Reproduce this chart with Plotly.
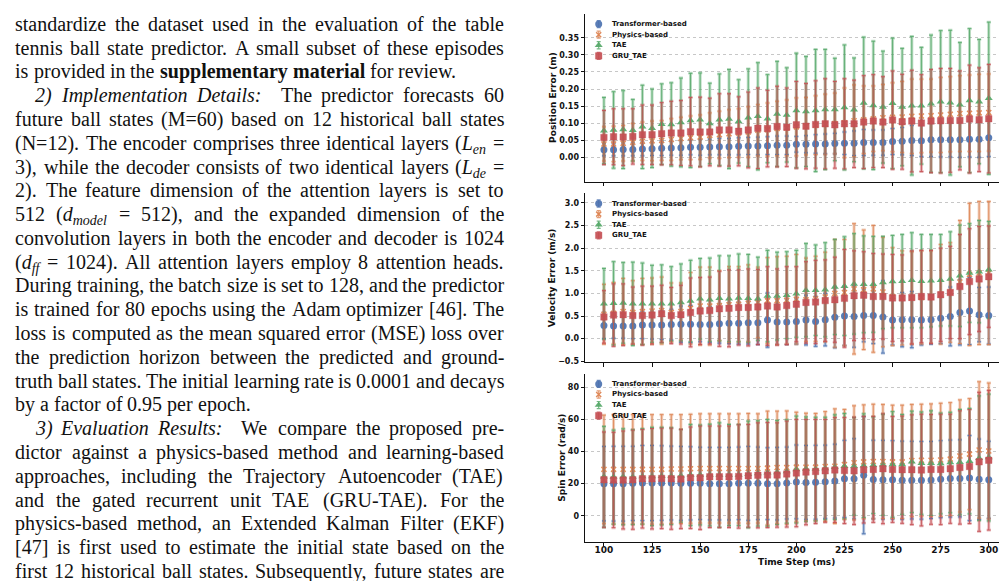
import re
import plotly.graph_objects as go

W, H = 1007, 581

# ---------------- data ----------------
time_steps = [100, 105, 110, 115, 120, 125, 130, 135, 140, 145,
              150, 155, 160, 165, 170, 175, 180, 185, 190, 195,
              200, 205, 210, 215, 220, 225, 230, 235, 240, 245,
              250, 255, 260, 265, 270, 275, 280, 285, 290, 295, 300]
x_ticks = [100, 125, 150, 175, 200, 225, 250, 275, 300]
series_names = ["Transformer-based", "Physics-based", "TAE", "GRU_TAE"]

# Position error (m)
pos_tf = [0.022, 0.022, 0.023, 0.023, 0.024, 0.025, 0.026, 0.027, 0.028, 0.029,
          0.029, 0.030, 0.031, 0.031, 0.032, 0.033, 0.033, 0.034, 0.035, 0.035,
          0.038, 0.038, 0.039, 0.039, 0.040, 0.041, 0.041, 0.043, 0.043, 0.043,
          0.046, 0.047, 0.049, 0.048, 0.051, 0.051, 0.051, 0.051, 0.053, 0.053, 0.057]
pos_tf_sd = [0.018, 0.018, 0.019, 0.019, 0.020, 0.020, 0.021, 0.021, 0.022, 0.022,
             0.023, 0.023, 0.024, 0.024, 0.025, 0.025, 0.026, 0.026, 0.027, 0.027,
             0.023, 0.025, 0.027, 0.029, 0.030, 0.033, 0.036, 0.038, 0.037, 0.037,
             0.038, 0.040, 0.044, 0.046, 0.049, 0.050, 0.050, 0.051, 0.052, 0.053, 0.055]
pos_ph = [0.039, 0.039, 0.041, 0.044, 0.047, 0.048, 0.049, 0.052, 0.055, 0.057,
          0.059, 0.064, 0.066, 0.069, 0.071, 0.074, 0.079, 0.081, 0.084, 0.086,
          0.089, 0.091, 0.094, 0.097, 0.099, 0.101, 0.107, 0.110, 0.113, 0.116,
          0.117, 0.118, 0.120, 0.121, 0.122, 0.124, 0.126, 0.128, 0.129, 0.130, 0.131]
pos_ph_sd = [0.050, 0.052, 0.052, 0.055, 0.056, 0.058, 0.058, 0.061, 0.062, 0.064,
             0.065, 0.066, 0.069, 0.070, 0.071, 0.074, 0.075, 0.078, 0.080, 0.082,
             0.085, 0.084, 0.086, 0.088, 0.089, 0.102, 0.105, 0.099, 0.096, 0.097,
             0.101, 0.104, 0.109, 0.108, 0.107, 0.110, 0.110, 0.111, 0.112, 0.113, 0.113]
pos_tae = [0.078, 0.080, 0.081, 0.079, 0.089, 0.085, 0.097, 0.096, 0.102, 0.108,
           0.110, 0.099, 0.110, 0.112, 0.105, 0.116, 0.120, 0.113, 0.127, 0.124,
           0.137, 0.134, 0.137, 0.140, 0.140, 0.146, 0.139, 0.159, 0.152, 0.147,
           0.158, 0.147, 0.151, 0.151, 0.157, 0.163, 0.160, 0.154, 0.166, 0.163, 0.173]
pos_tae_sd = [0.097, 0.112, 0.114, 0.090, 0.122, 0.115, 0.118, 0.122, 0.130, 0.138,
              0.137, 0.118, 0.134, 0.145, 0.122, 0.143, 0.157, 0.129, 0.154, 0.138,
              0.168, 0.161, 0.179, 0.176, 0.150, 0.183, 0.152, 0.193, 0.188, 0.164,
              0.191, 0.172, 0.203, 0.171, 0.201, 0.208, 0.212, 0.182, 0.211, 0.182, 0.223]
pos_gru = [0.058, 0.060, 0.059, 0.061, 0.066, 0.066, 0.069, 0.071, 0.071, 0.075,
           0.074, 0.074, 0.080, 0.080, 0.076, 0.080, 0.085, 0.084, 0.090, 0.088,
           0.095, 0.091, 0.096, 0.098, 0.095, 0.098, 0.098, 0.103, 0.106, 0.103,
           0.109, 0.104, 0.106, 0.100, 0.106, 0.107, 0.108, 0.108, 0.112, 0.110, 0.113]
pos_gru_sd = [0.079, 0.082, 0.083, 0.081, 0.087, 0.087, 0.091, 0.093, 0.095, 0.100,
              0.102, 0.099, 0.106, 0.106, 0.101, 0.111, 0.118, 0.112, 0.118, 0.115,
              0.127, 0.125, 0.128, 0.132, 0.127, 0.132, 0.128, 0.136, 0.136, 0.133,
              0.144, 0.139, 0.149, 0.142, 0.151, 0.153, 0.152, 0.145, 0.158, 0.152, 0.159]

# Velocity error (m/s)
vel_tf = [0.29, 0.28, 0.28, 0.28, 0.30, 0.30, 0.30, 0.31, 0.32, 0.32,
          0.31, 0.31, 0.33, 0.34, 0.34, 0.35, 0.35, 0.41, 0.37, 0.37,
          0.38, 0.41, 0.38, 0.42, 0.47, 0.50, 0.49, 0.51, 0.51, 0.48,
          0.41, 0.42, 0.42, 0.41, 0.42, 0.45, 0.49, 0.58, 0.61, 0.53, 0.51]
vel_tf_sd = [0.29, 0.27, 0.27, 0.28, 0.30, 0.31, 0.32, 0.34, 0.40, 0.41,
             0.38, 0.40, 0.43, 0.45, 0.46, 0.47, 0.48, 0.60, 0.50, 0.50,
             0.50, 0.55, 0.55, 0.58, 0.67, 0.65, 0.68, 0.58, 0.62, 0.80,
             0.55, 0.60, 0.62, 0.55, 0.54, 0.56, 0.65, 0.72, 0.74, 0.60, 0.63]
vel_ph = [0.54, 0.56, 0.60, 0.58, 0.60, 0.61, 0.62, 0.58, 0.60, 0.67,
          0.72, 0.72, 0.73, 0.75, 0.76, 0.78, 0.80, 0.84, 0.84, 0.85,
          0.87, 0.86, 0.88, 0.92, 1.00, 1.02, 1.10, 1.08, 1.10, 1.03,
          0.93, 0.90, 0.90, 0.91, 0.92, 0.98, 1.02, 1.25, 1.42, 1.45, 1.45]
vel_ph_sd = [0.66, 0.68, 0.73, 0.70, 0.73, 0.73, 0.74, 0.65, 0.63, 0.79,
             0.86, 0.86, 0.77, 0.84, 0.83, 0.85, 0.78, 0.95, 0.97, 0.97,
             0.99, 0.92, 0.94, 0.99, 1.19, 1.17, 1.44, 1.32, 1.40, 1.21,
             1.08, 1.04, 1.02, 1.03, 1.02, 1.10, 1.10, 1.36, 1.57, 1.58, 1.58]
vel_tae = [0.77, 0.78, 0.79, 0.77, 0.77, 0.77, 0.77, 0.77, 0.80, 0.83,
           0.88, 0.86, 0.89, 0.88, 0.90, 0.89, 0.88, 0.94, 0.94, 0.96,
           0.99, 1.07, 1.07, 1.08, 1.14, 1.16, 1.21, 1.20, 1.20, 1.24,
           1.26, 1.27, 1.29, 1.27, 1.28, 1.29, 1.32, 1.39, 1.45, 1.48, 1.52]
vel_tae_sd = [0.78, 0.92, 0.89, 0.92, 0.90, 0.85, 0.86, 0.82, 0.85, 0.90,
              0.89, 0.92, 0.94, 0.95, 0.97, 0.97, 0.92, 1.01, 0.97, 0.96,
              0.96, 1.03, 1.00, 1.04, 1.05, 1.09, 1.11, 1.07, 1.06, 1.02,
              1.02, 1.03, 1.05, 1.03, 1.02, 1.01, 1.04, 1.12, 1.09, 1.13, 1.07]
vel_gru = [0.48, 0.52, 0.53, 0.51, 0.51, 0.52, 0.55, 0.51, 0.53, 0.58,
           0.61, 0.62, 0.66, 0.67, 0.69, 0.69, 0.70, 0.72, 0.70, 0.73,
           0.76, 0.80, 0.81, 0.84, 0.86, 0.89, 0.95, 0.96, 0.93, 0.93,
           0.90, 0.90, 0.91, 0.93, 0.92, 0.97, 1.02, 1.15, 1.26, 1.32, 1.37]
vel_gru_sd = [0.58, 0.69, 0.68, 0.63, 0.65, 0.64, 0.63, 0.62, 0.65, 0.76,
              0.74, 0.74, 0.83, 0.85, 0.83, 0.85, 0.83, 0.87, 0.84, 0.86,
              0.83, 0.90, 0.92, 0.90, 0.94, 1.08, 0.99, 0.96, 0.95, 0.94,
              0.96, 0.95, 1.03, 1.02, 1.03, 1.03, 1.02, 1.15, 1.17, 1.16, 1.12]

# Spin error (rad/s)
spin_tf = [20.0, 20.0, 20.0, 20.2, 20.4, 20.4, 20.4, 20.4, 20.2, 20.2,
           20.2, 20.0, 20.0, 20.0, 20.2, 20.2, 20.2, 20.0, 20.0, 20.4,
           21.1, 20.8, 20.9, 21.2, 21.6, 23.0, 23.0, 25.3, 22.6, 22.5,
           22.4, 22.2, 22.2, 22.1, 22.3, 22.8, 23.2, 23.3, 23.5, 22.8, 22.4]
spin_tf_sd = [23.2, 23.3, 23.3, 23.1, 23.4, 23.4, 23.2, 23.0, 23.0, 22.8,
              22.5, 22.6, 22.6, 22.6, 22.6, 23.0, 22.6, 22.4, 22.6, 22.4,
              23.0, 23.0, 23.0, 22.8, 23.0, 24.0, 25.0, 36.5, 24.5, 24.5,
              24.4, 24.3, 24.2, 24.2, 24.0, 24.0, 24.0, 24.0, 26.5, 25.0, 24.0]
spin_ph = [28.9, 28.9, 28.9, 28.9, 28.9, 28.9, 28.9, 29.1, 29.1, 29.3,
           29.5, 29.5, 29.5, 29.5, 29.5, 29.5, 29.5, 29.7, 30.1, 30.1,
           30.3, 30.3, 30.3, 30.7, 30.9, 32.0, 33.0, 33.6, 33.8, 33.8,
           33.6, 33.6, 34.4, 34.6, 34.6, 34.8, 35.3, 37.3, 38.4, 41.0, 40.4]
spin_ph_sd = [33.8, 34.1, 34.1, 34.1, 34.1, 34.1, 34.1, 33.9, 33.9, 33.9,
              34.0, 34.0, 34.0, 34.0, 34.0, 34.2, 34.0, 35.5, 35.1, 35.2,
              34.2, 33.6, 33.4, 34.2, 35.7, 34.2, 35.5, 35.5, 35.7, 35.5,
              35.3, 35.3, 34.9, 34.9, 35.1, 35.3, 35.2, 34.9, 34.6, 42.5, 42.3]
spin_tae = [24.3, 24.1, 24.3, 24.1, 24.5, 24.5, 24.7, 24.7, 24.9, 25.4,
            25.4, 25.4, 25.4, 25.4, 25.4, 25.8, 26.4, 26.8, 27.0, 27.6,
            28.8, 29.1, 29.1, 29.5, 30.3, 30.9, 30.8, 31.2, 31.5, 31.8,
            32.0, 32.0, 33.6, 32.8, 32.8, 32.6, 33.2, 33.4, 34.0, 35.9, 36.3]
spin_tae_sd = [31.4, 29.3, 29.9, 29.5, 29.7, 30.6, 30.4, 30.1, 28.9, 31.5,
               31.1, 31.7, 32.5, 31.5, 31.5, 33.2, 32.8, 33.2, 32.4, 32.2,
               33.3, 32.5, 32.3, 31.9, 32.6, 32.8, 30.4, 32.3, 30.1, 31.5,
               32.9, 31.1, 31.6, 31.9, 32.6, 31.4, 31.3, 32.8, 32.8, 38.8, 39.5]
spin_gru = [22.5, 22.3, 22.3, 22.5, 23.1, 23.1, 23.3, 23.1, 22.9, 23.7,
            23.7, 24.3, 24.3, 24.3, 24.5, 24.9, 25.2, 25.4, 25.4, 26.0,
            26.6, 27.2, 27.6, 28.0, 28.5, 28.2, 28.0, 28.7, 28.9, 29.3,
            28.9, 28.7, 28.7, 28.5, 28.9, 28.9, 29.3, 30.1, 30.7, 33.6, 34.6]
spin_gru_sd = [29.7, 29.7, 30.5, 30.9, 30.7, 31.3, 31.3, 31.5, 30.9, 31.6,
               32.2, 31.6, 31.6, 31.6, 32.2, 32.0, 32.7, 32.7, 32.5, 33.0,
               33.4, 32.8, 32.4, 32.0, 32.7, 33.0, 33.4, 33.2, 33.0, 34.2,
               33.0, 33.4, 34.2, 34.8, 34.2, 34.4, 34.0, 35.3, 35.5, 43.3, 43.5]

y_titles = ["Position Error (m)", "Velocity Error (m/s)", "Spin Error (rad/s)"]
y_tickvals = [[0.0, 0.05, 0.10, 0.15, 0.20, 0.25, 0.30, 0.35],
              [-0.5, 0.0, 0.5, 1.0, 1.5, 2.0, 2.5, 3.0],
              [0, 20, 40, 60, 80]]
y_tickformats = [".2f", ".1f", "d"]
y_ranges = [[-0.072, 0.420], [-0.522, 3.21], [-16.1, 88.5]]
x_title = "Time Step (ms)"

panel_data = [
    [(pos_tf, pos_tf_sd), (pos_ph, pos_ph_sd), (pos_tae, pos_tae_sd), (pos_gru, pos_gru_sd)],
    [(vel_tf, vel_tf_sd), (vel_ph, vel_ph_sd), (vel_tae, vel_tae_sd), (vel_gru, vel_gru_sd)],
    [(spin_tf, spin_tf_sd), (spin_ph, spin_ph_sd), (spin_tae, spin_tae_sd), (spin_gru, spin_gru_sd)],
]

# left column paper text ('||' marks the run-in heading gap; flag = justified)
text_lines = [
    ("standardize the dataset used in the evaluation of the table", True, False),
    ("tennis ball state predictor. A small subset of these episodes", True, False),
    ("is provided in the <b>supplementary</b> <b>material</b> for review.", False, False),
    ("<i>2)</i> <i>Implementation</i> <i>Details:</i> || The predictor forecasts 60", True, True),
    ("future ball states (M=60) based on 12 historical ball states", True, False),
    ("(N=12). The encoder comprises three identical layers (<i>L<sub>en</sub></i> =", True, False),
    ("3), while the decoder consists of two identical layers (<i>L<sub>de</sub></i> =", True, False),
    ("2). The feature dimension of the attention layers is set to", True, False),
    ("512 (<i>d<sub>model</sub></i> = 512), and the expanded dimension of the", True, False),
    ("convolution layers in both the encoder and decoder is 1024", True, False),
    ("(<i>d<sub>ff</sub></i> = 1024). All attention layers employ 8 attention heads.", True, False),
    ("During training, the batch size is set to 128, and the predictor", True, False),
    ("is trained for 80 epochs using the Adam optimizer [46]. The", True, False),
    ("loss is computed as the mean squared error (MSE) loss over", True, False),
    ("the prediction horizon between the predicted and ground-", True, False),
    ("truth ball states. The initial learning rate is 0.0001 and decays", True, False),
    ("by a factor of 0.95 per epoch.", False, False),
    ("<i>3)</i> <i>Evaluation</i> <i>Results:</i> || We compare the proposed pre-", True, True),
    ("dictor against a physics-based method and learning-based", True, False),
    ("approaches, including the Trajectory Autoencoder (TAE)", True, False),
    ("and the gated recurrent unit TAE (GRU-TAE). For the", True, False),
    ("physics-based method, an Extended Kalman Filter (EKF)", True, False),
    ("[47] is first used to estimate the initial state based on the", True, False),
    ("first 12 historical ball states. Subsequently, future states are", True, False),
]

# ---------------- style / geometry ----------------
COLORS = [(76, 114, 176), (221, 132, 82), (85, 168, 104), (196, 78, 82)]
AX_L, AX_R = 576.7, 1000.0
PANELS = [(6.0, 175.0), (186.7, 356.7), (368.3, 537.3)]
YT_X = [545.0, 544.3, 554.0]
TICK_FONT = dict(family="DejaVu Sans", size=8, color="#111111", weight="bold")
TEXT_FONT = "Liberation Serif"
TEXT_SIZE = 20


def rgba(c, a):
    return "rgba(%d,%d,%d,%.3f)" % (c[0], c[1], c[2], a)


def marker_style(k, c):
    if k == 0:
        return dict(symbol="circle", size=7, color=rgba(c, 0.92), line=dict(width=0))
    if k == 1:
        return dict(symbol="x-thin", size=5, color=rgba(c, 1), line=dict(width=1.5, color=rgba(c, 0.95)))
    if k == 2:
        return dict(symbol="triangle-up", size=7, color=rgba(c, 0.92), line=dict(width=0))
    return dict(symbol="square", size=6.5, color=rgba(c, 0.92), line=dict(width=1, color=rgba(c, 0.35)))


fig = go.Figure()
annotations = []

for p in range(3):
    sfx = "" if p == 0 else str(p + 1)
    xa, ya = "x" + sfx, "y" + sfx
    # wide translucent error bands
    for k, (mean, sd) in enumerate(panel_data[p]):
        c = COLORS[k]
        fig.add_trace(go.Scatter(
            x=time_steps, y=mean, mode="markers", xaxis=xa, yaxis=ya,
            marker=dict(size=1, opacity=0), showlegend=False, hoverinfo="skip",
            error_y=dict(type="data", array=sd, visible=True, color=rgba(c, 0.40),
                         thickness=3, width=2)))
    # thin error lines + markers
    for k, (mean, sd) in enumerate(panel_data[p]):
        c = COLORS[k]
        fig.add_trace(go.Scatter(
            x=time_steps, y=mean, mode="markers", xaxis=xa, yaxis=ya,
            name=series_names[k], showlegend=False,
            marker=marker_style(k, c),
            error_y=dict(type="data", array=sd, visible=True, color=rgba(c, 0.85),
                         thickness=1, width=2)))

# custom legends (overlay pixel axis)
LEG_X, LEG_TX, LEG_DY0, LEG_STEP = 590.7, 603.0, 10.2, 10.67
for p in range(3):
    top = PANELS[p][0]
    for k in range(4):
        c = COLORS[k]
        yy = top + LEG_DY0 + k * LEG_STEP
        fig.add_trace(go.Scatter(
            x=[LEG_X], y=[yy], mode="markers", xaxis="x4", yaxis="y4",
            showlegend=False, hoverinfo="skip", marker=marker_style(k, c),
            error_y=dict(type="data", array=[3.6], visible=True, color=rgba(c, 0.8),
                         thickness=1.2, width=2)))
        annotations.append(dict(
            x=(LEG_TX - 1) / W, y=1 - yy / H, xref="paper", yref="paper",
            xanchor="left", yanchor="middle", showarrow=False,
            text=series_names[k],
            font=dict(family="DejaVu Sans", size=7, color="#111111", weight="bold")))

layout = dict(
    width=W, height=H, autosize=False,
    margin=dict(l=0, r=0, t=0, b=0, pad=0),
    paper_bgcolor="white", plot_bgcolor="rgba(0,0,0,0)",
    showlegend=False,
)
for p in range(3):
    sfx = "" if p == 0 else str(p + 1)
    top, bot = PANELS[p]
    layout["xaxis" + sfx] = dict(
        domain=[AX_L / W, AX_R / W], range=[90, 310], anchor="y" + sfx,
        tickmode="array", tickvals=x_ticks, ticks="outside", ticklen=3.5,
        tickwidth=1, tickcolor="#111111", showline=True, linecolor="#111111",
        linewidth=1.2, showgrid=False, zeroline=False,
        showticklabels=(p == 2), ticklabelstandoff=-4,
        tickfont=dict(family="DejaVu Sans", size=9, color="#111111", weight="bold"))
    layout["yaxis" + sfx] = dict(
        domain=[1 - bot / H, 1 - top / H], range=y_ranges[p], anchor="x" + sfx,
        tickmode="array", tickvals=y_tickvals[p], tickformat=y_tickformats[p],
        ticks="outside", ticklen=3, tickwidth=1, tickcolor="#111111",
        showline=True, linecolor="#111111", linewidth=1.2,
        showgrid=True, gridcolor="rgba(0,0,0,0.22)", griddash="dot", gridwidth=1,
        zeroline=False, tickfont=TICK_FONT)
    annotations.append(dict(
        x=YT_X[p] / W, y=1 - (top + bot) / 2 / H, xref="paper", yref="paper",
        xanchor="center", yanchor="middle", showarrow=False, textangle=-90,
        text=y_titles[p],
        font=dict(family="DejaVu Sans", size=9, color="#111111", weight="bold")))

annotations.append(dict(
    x=(AX_L + AX_R) / 2 / W, y=1 - 557.5 / H, xref="paper", yref="paper",
    xanchor="center", yanchor="middle", showarrow=False, text=x_title,
    font=dict(family="DejaVu Sans", size=9, color="#111111", weight="bold")))

layout["xaxis4"] = dict(domain=[0, 1], range=[0, W], anchor="y4", visible=False,
                        fixedrange=True)
layout["yaxis4"] = dict(domain=[0, 1], range=[H, 0], anchor="x4", visible=False,
                        fixedrange=True)

# ---------------- justified paper text ----------------
REG_W = {' ': 250, 'a': 444, 'b': 500, 'c': 444, 'd': 500, 'e': 444, 'f': 333, 'g': 500,
         'h': 500, 'i': 278, 'j': 278, 'k': 500, 'l': 278, 'm': 778, 'n': 500, 'o': 500,
         'p': 500, 'q': 500, 'r': 333, 's': 389, 't': 278, 'u': 500, 'v': 500, 'w': 722,
         'x': 500, 'y': 500, 'z': 444, 'A': 722, 'B': 667, 'C': 667, 'D': 722, 'E': 611,
         'F': 556, 'G': 722, 'H': 722, 'I': 333, 'J': 389, 'K': 722, 'L': 611, 'M': 889,
         'N': 722, 'O': 722, 'P': 556, 'Q': 722, 'R': 667, 'S': 556, 'T': 611, 'U': 722,
         'V': 722, 'W': 944, 'X': 722, 'Y': 722, 'Z': 611, '(': 333, ')': 333, '[': 333,
         ']': 333, '.': 250, ',': 250, ':': 278, ';': 278, '-': 333, '=': 564}
BOLD_W = {'a': 500, 'b': 556, 'c': 444, 'd': 556, 'e': 444, 'f': 333, 'g': 500, 'h': 556,
          'i': 278, 'l': 278, 'm': 833, 'n': 556, 'o': 500, 'p': 556, 'r': 444, 's': 389,
          't': 333, 'u': 556, 'y': 500}
ITAL_W = {'a': 500, 'd': 500, 'e': 444, 'f': 278, 'i': 278, 'l': 278, 'm': 722, 'n': 500,
          'o': 500, 'p': 500, 'r': 389, 's': 389, 't': 278, 'u': 500, 'v': 444, 'D': 722,
          'E': 611, 'I': 333, 'L': 556, 'R': 611, ')': 333, ':': 333}


def word_width(word, size):
    b = i = sub = False
    w = 0.0
    for tok in re.split(r'(<[^>]+>)', word):
        if tok.startswith('<'):
            name = tok.strip('<>/').lower()
            on = not tok.startswith('</')
            if name == 'b':
                b = on
            elif name == 'i':
                i = on
            elif name == 'sub':
                sub = on
            continue
        for ch in tok:
            tab = BOLD_W if b else (ITAL_W if i else REG_W)
            cw = tab.get(ch, REG_W.get(ch, 500))
            w += cw / 1000.0 * size * (0.7 if sub else 1.0)
    return w


TX0, TX_IND, TX1 = 7.3, 26.5, 496.0
BASE0, LSTEP = 22.7, 23.95
ASC = 0.891 * TEXT_SIZE
WIDE_EXTRA = 10.5
for li, (line, justify, indent) in enumerate(text_lines):
    words, wide = [], []
    for tok in line.split(' '):
        if tok == '||':
            wide[-1] = True
            continue
        words.append(tok)
        wide.append(False)
    widths = [word_width(w_, TEXT_SIZE) for w_ in words]
    x0 = TX_IND if indent else TX0
    n_gaps = len(words) - 1
    extra_fixed = WIDE_EXTRA * sum(1 for g in wide[:-1] if g)
    if justify and n_gaps > 0:
        gap = (TX1 - x0 - sum(widths) - extra_fixed) / n_gaps
    else:
        gap = 0.25 * TEXT_SIZE
    xx = x0
    top_px = BASE0 + li * LSTEP - ASC - 2
    for wi, w_ in enumerate(words):
        annotations.append(dict(
            x=(xx - 2) / W, y=1 - top_px / H, xref="paper", yref="paper",
            xanchor="left", yanchor="top", showarrow=False, text=w_,
            font=dict(family=TEXT_FONT, size=TEXT_SIZE, color="#111111")))
        xx += widths[wi] + gap + (WIDE_EXTRA if wide[wi] else 0)

layout["annotations"] = annotations
fig.update_layout(**layout)

fig.write_html("out.html", config={"displayModeBar": False})
